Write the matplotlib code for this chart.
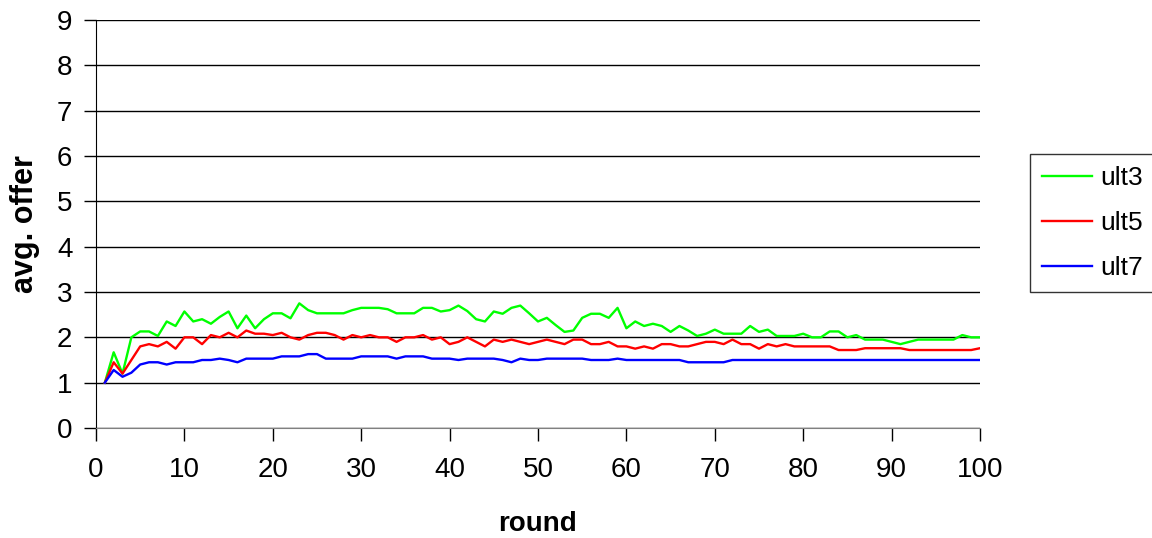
import matplotlib
matplotlib.use("Agg")
import matplotlib.pyplot as plt
import numpy as np

plt.rcParams['font.family'] = ['Liberation Sans', 'DejaVu Sans']

# === DATA
rounds = list(range(1, 101))

ult3 = [1.0, 1.67, 1.2, 2.0, 2.13, 2.13, 2.03, 2.35, 2.25, 2.57,
        2.35, 2.4, 2.3, 2.45, 2.57, 2.2, 2.48, 2.2, 2.4, 2.53,
        2.53, 2.42, 2.75, 2.6, 2.53, 2.53, 2.53, 2.53, 2.6, 2.65,
        2.65, 2.65, 2.62, 2.53, 2.53, 2.53, 2.65, 2.65, 2.57, 2.6,
        2.7, 2.58, 2.4, 2.35, 2.57, 2.52, 2.65, 2.7, 2.53, 2.35,
        2.43, 2.27, 2.12, 2.15, 2.43, 2.52, 2.52, 2.43, 2.65, 2.2,
        2.35, 2.25, 2.3, 2.25, 2.12, 2.25, 2.15, 2.03, 2.08, 2.17,
        2.08, 2.08, 2.08, 2.25, 2.12, 2.17, 2.03, 2.03, 2.03, 2.08,
        2.0, 2.0, 2.13, 2.13, 2.0, 2.05, 1.95, 1.95, 1.95, 1.9,
        1.85, 1.9, 1.95, 1.95, 1.95, 1.95, 1.95, 2.05, 2.0, 2.0]

ult5 = [1.0, 1.45, 1.2, 1.5, 1.8, 1.85, 1.8, 1.9, 1.75, 2.0,
        2.0, 1.85, 2.05, 2.0, 2.1, 2.0, 2.15, 2.08, 2.08, 2.05,
        2.1, 2.0, 1.95, 2.05, 2.1, 2.1, 2.05, 1.95, 2.05, 2.0,
        2.05, 2.0, 2.0, 1.9, 2.0, 2.0, 2.05, 1.95, 2.0, 1.85,
        1.9, 2.0, 1.9, 1.8, 1.95, 1.9, 1.95, 1.9, 1.85, 1.9,
        1.95, 1.9, 1.85, 1.95, 1.95, 1.85, 1.85, 1.9, 1.8, 1.8,
        1.75, 1.8, 1.75, 1.85, 1.85, 1.8, 1.8, 1.85, 1.9, 1.9,
        1.85, 1.95, 1.85, 1.85, 1.75, 1.85, 1.8, 1.85, 1.8, 1.8,
        1.8, 1.8, 1.8, 1.72, 1.72, 1.72, 1.76, 1.76, 1.76, 1.76,
        1.76, 1.72, 1.72, 1.72, 1.72, 1.72, 1.72, 1.72, 1.72, 1.76]

ult7 = [1.0, 1.28, 1.13, 1.22, 1.4, 1.45, 1.45, 1.4, 1.45, 1.45,
        1.45, 1.5, 1.5, 1.53, 1.5, 1.45, 1.53, 1.53, 1.53, 1.53,
        1.58, 1.58, 1.58, 1.63, 1.63, 1.53, 1.53, 1.53, 1.53, 1.58,
        1.58, 1.58, 1.58, 1.53, 1.58, 1.58, 1.58, 1.53, 1.53, 1.53,
        1.5, 1.53, 1.53, 1.53, 1.53, 1.5, 1.45, 1.53, 1.5, 1.5,
        1.53, 1.53, 1.53, 1.53, 1.53, 1.5, 1.5, 1.5, 1.53, 1.5,
        1.5, 1.5, 1.5, 1.5, 1.5, 1.5, 1.45, 1.45, 1.45, 1.45,
        1.45, 1.5, 1.5, 1.5, 1.5, 1.5, 1.5, 1.5, 1.5, 1.5,
        1.5, 1.5, 1.5, 1.5, 1.5, 1.5, 1.5, 1.5, 1.5, 1.5,
        1.5, 1.5, 1.5, 1.5, 1.5, 1.5, 1.5, 1.5, 1.5, 1.5]

series = [("ult3", ult3, "#00FF00"), ("ult5", ult5, "#FF0000"), ("ult7", ult7, "#0000FF")]

# === FIGURE
fig = plt.figure(figsize=(11.52, 5.38), dpi=100)
ax = fig.add_axes([96 / 1152, 110 / 538, 884 / 1152, 408 / 538])

for name, vals, col in series:
    ax.plot(rounds, vals, color=col, lw=1.7, label=name)

ax.set_xlim(0, 100)
ax.set_ylim(0, 9)
ax.set_xticks(range(0, 101, 10))
ax.set_yticks(range(0, 10))
ax.yaxis.grid(True, color="black", lw=1.0)
ax.set_axisbelow(True)

for s in ["top", "right"]:
    ax.spines[s].set_visible(False)
ax.spines["left"].set_color("black")
ax.spines["bottom"].set_color("#808080")
ax.tick_params(axis="both", direction="out", length=9, width=1, labelsize=20)
ax.tick_params(axis="y", pad=8)
ax.tick_params(axis="x", pad=12)

ax.set_xlabel("round", fontsize=20, fontweight="bold", labelpad=20)
ax.set_ylabel("avg. offer", fontsize=22, fontweight="bold", labelpad=12)

leg = ax.legend(loc="upper left", bbox_to_anchor=(1030 / 1152, 1 - 154 / 538),
                bbox_transform=fig.transFigure, borderaxespad=0,
                fontsize=19, frameon=True, fancybox=False, edgecolor="black",
                handlelength=1.9, labelspacing=0.8, borderpad=0.45,
                handletextpad=0.3)
leg.get_frame().set_linewidth(1.0)

fig.savefig("out.png", dpi=100)
